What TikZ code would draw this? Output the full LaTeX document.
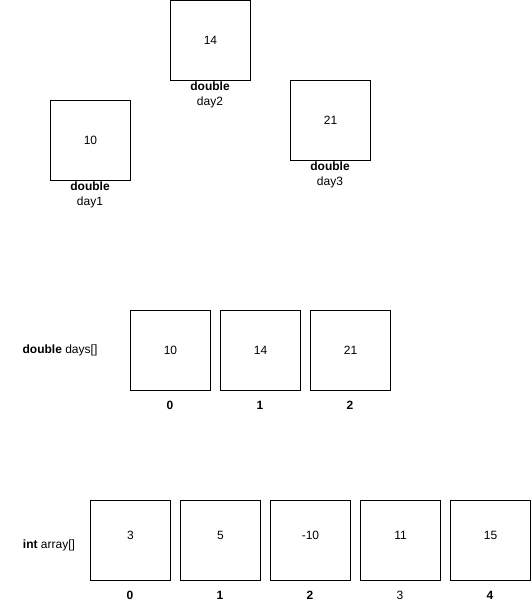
\documentclass[tikz,border=0pt]{standalone}
\usepackage{fontspec}
\setmainfont{Liberation Sans}
\begin{document}
\begin{tikzpicture}[x=1pt,y=-1pt,
  cell/.style={draw=black,line width=1pt,outer sep=0pt,minimum width=80pt,minimum height=80pt,inner sep=0pt,anchor=north west,font=\fontsize{12}{14}\selectfont},
  lbl/.style={inner sep=0pt,font=\fontsize{12}{15}\selectfont,align=center},
  idx/.style={inner sep=0pt,font=\fontsize{12}{14}\selectfont\bfseries}]
\useasboundingbox[fill=white] (0,0) rectangle (531,611);
% single variables
\node[cell] (d2) at (170.5,0.5) {14};
\node[lbl] (d2l) at (210,95) {\textbf{double}\\day2};
\node[cell] (d1) at (50.5,100.5) {10};
\node[lbl] (d1l) at (90,195) {\textbf{double}\\day1};
\node[cell] (d3) at (290.5,80.5) {21};
\node[lbl] (d3l) at (330,175) {\textbf{double}\\day3};
% double array
\node[lbl] (dname) at (60,350) {\textbf{double} days[]};
\node[cell] (a0) at (130.5,310.5) {10};
\node[cell] (a1) at (220.5,310.5) {14};
\node[cell] (a2) at (310.5,310.5) {21};
\node[idx] (i0) at (170,405) {0};
\node[idx] (i1) at (260,405) {1};
\node[idx] (i2) at (350,405) {2};
% int array
\node[lbl] (iname) at (49,545) {\textbf{int} array[]};
\node[cell,text depth=10pt] (b0) at (90.5,500.5) {3};
\node[cell,text depth=10pt] (b1) at (180.5,500.5) {5};
\node[cell,text depth=10pt] (b2) at (270.5,500.5) {-10};
\node[cell,text depth=10pt] (b3) at (360.5,500.5) {11};
\node[cell,text depth=10pt] (b4) at (450.5,500.5) {15};
\node[idx] (j0) at (130,595) {0};
\node[idx] (j1) at (220,595) {1};
\node[idx] (j2) at (310,595) {2};
\node[lbl] (j3) at (400,595) {3};
\node[idx] (j4) at (490,595) {4};
\end{tikzpicture}
\end{document}
